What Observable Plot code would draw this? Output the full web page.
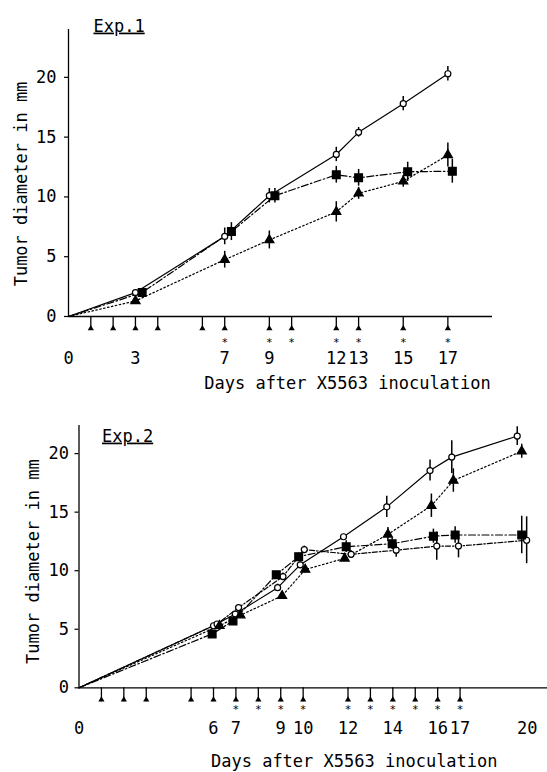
<!DOCTYPE html>
<html><head><meta charset="utf-8">
<script src="https://cdn.jsdelivr.net/npm/d3@7"></script>
<script src="https://cdn.jsdelivr.net/npm/@observablehq/plot@0.6"></script>
<style>
body{margin:0;background:#fff;}
#chart svg{display:block;}
</style></head><body><div id="chart"></div>
<script>
const FONT = "DejaVu Sans Mono, monospace";

// ---------- Exp.1 ----------
const e1TickLabels = [0, 3, 7, 9, 12, 13, 15, 17];
const e1Arrows = [1, 2, 3, 4, 6, 7, 9, 10, 12, 13, 15, 17];
const e1Stars = [7, 9, 10, 12, 13, 15, 17];
const e1CircleDay = [0, 3, 7, 9, 12, 13, 15, 17];
const e1CircleMm  = [0, 2.0, 6.7, 10.1, 13.55, 15.4, 17.8, 20.3];
const e1CircleSd  = [0, 0.2, 0.7, 0.6, 0.6, 0.4, 0.6, 0.6];
const e1SquareDay = [0, 3.3, 7.3, 9.25, 12, 13, 15.2, 17.2];
const e1SquareMm  = [0, 2.0, 7.1, 10.1, 11.85, 11.6, 12.1, 12.15];
const e1SquareSd  = [0, 0.2, 0.75, 0.6, 0.7, 0.7, 0.8, 1.0];
const e1TriDay = [0, 3, 7, 9, 12, 13, 15, 17];
const e1TriMm  = [0, 1.3, 4.75, 6.4, 8.75, 10.3, 11.3, 13.5];
const e1TriSd  = [0, 0.2, 0.7, 0.75, 0.85, 0.5, 0.5, 1.0];

// ---------- Exp.2 ----------
const e2TickLabels = [0, 6, 7, 9, 10, 12, 14, 16, 17, 20];
const e2Arrows = [1, 2, 3, 5, 6, 7, 8, 9, 10, 12, 13, 14, 15, 16, 17];
const e2Stars = [7, 8, 9, 10, 12, 13, 14, 15, 16, 17];
const e2CircleDay = [0, 6.0, 6.97, 8.86, 9.87, 11.8, 13.73, 15.66, 16.63, 19.55];
const e2CircleMm  = [0, 5.3, 6.3, 8.55, 10.5, 12.9, 15.45, 18.55, 19.7, 21.5];
const e2CircleSd  = [0, 0.2, 0.2, 0.3, 0.3, 0.2, 0.9, 0.9, 1.4, 0.8];
const e2OpenDashDay = [0, 6.16, 7.12, 9.1, 10.05, 12.14, 14.15, 15.96, 16.93, 19.97];
const e2OpenDashMm  = [0, 5.45, 6.85, 9.5, 11.8, 11.4, 11.75, 12.1, 12.1, 12.6];
const e2OpenDashSd  = [0, 0.2, 0.2, 0.3, 0.3, 0.3, 0.6, 1.2, 1.0, 2.0];
const e2SquareDay = [0, 5.94, 6.87, 8.8, 9.8, 11.92, 13.97, 15.81, 16.78, 19.75];
const e2SquareMm  = [0, 4.6, 5.7, 9.65, 11.2, 12.05, 12.3, 12.95, 13.05, 13.05];
const e2SquareSd  = [0, 0.2, 0.2, 0.3, 0.3, 0.5, 0.5, 0.6, 0.7, 1.6];
const e2TriDay = [0, 6.27, 7.2, 9.06, 10.09, 11.85, 13.78, 15.72, 16.7, 19.75];
const e2TriMm  = [0, 5.3, 6.2, 7.85, 10.1, 11.05, 13.1, 15.55, 17.7, 20.2];
const e2TriSd  = [0, 0.2, 0.2, 0.2, 0.3, 0.2, 0.6, 1.0, 1.0, 0.6];

const yTicks = [0, 5, 10, 15, 20];
const expTitles = ["Exp.1", "Exp.2"];
const yTitle = "Tumor diameter in mm";
const xTitle = "Days after X5563 inoculation";

const STYLE = {
  circle: {symbol: "circle", r: 3, fill: "white", dash: null},
  openDash: {symbol: "circle", r: 3, fill: "white", dash: "5,2,1.5,2"},
  square: {symbol: "square", r: 4.4, fill: "black", dash: "7,2.5,1.5,2.5"},
  tri: {symbol: "triangle", r: 3.4, fill: "black", dash: "1.6,2.4"}
};

function rows(days, mm, sd) {
  return days.map((d, i) => ({day: d, mm: mm[i], sd: sd[i]}));
}

function panel(cfg) {
  const marks = [];
  marks.push(Plot.ruleY([0], {strokeWidth: 1.3}));
  marks.push(Plot.ruleX([0], {strokeWidth: 1.3}));
  marks.push(Plot.axisY({ticks: yTicks, tickSize: 4, tickPadding: cfg.yPad, fontSize: 17, fontFamily: FONT, label: null, strokeWidth: 1.2}));
  marks.push(Plot.axisX({ticks: cfg.arrows, tickSize: 14, tickFormat: () => "", label: null, strokeWidth: 1.3}));
  marks.push(Plot.dot(cfg.arrows, {x: d => d, y: () => 0, dy: 12, symbol: "triangle", r: 2.3, fill: "black", stroke: "none"}));
  marks.push(Plot.text(cfg.stars, {x: d => d, y: () => 0, dy: cfg.starDy, text: () => "*", fontSize: 11, fontFamily: FONT, fill: "black"}));
  marks.push(Plot.axisX({ticks: cfg.ticks, tickSize: 0, tickPadding: cfg.xPad, fontSize: 17, fontFamily: FONT, label: null}));
  for (const g of cfg.groups) {
    const st = STYLE[g.style];
    const data = rows(g.days, g.mm, g.sd);
    marks.push(Plot.line(data, {x: "day", y: "mm", stroke: "black", strokeWidth: 1.2, strokeDasharray: st.dash}));
  }
  for (const g of cfg.groups) {
    const data = rows(g.days, g.mm, g.sd).filter(r => r.sd > 0);
    marks.push(Plot.ruleX(data, {x: "day", y1: r => r.mm - r.sd, y2: r => r.mm + r.sd, strokeWidth: 1.5}));
  }
  for (const g of cfg.groups) {
    const st = STYLE[g.style];
    const data = rows(g.days, g.mm, g.sd).slice(1);
    marks.push(Plot.dot(data, {x: "day", y: "mm", symbol: st.symbol, r: st.r, fill: st.fill, stroke: "black", strokeWidth: 1.2}));
  }
  marks.push(Plot.text([cfg.exp], {frameAnchor: "top-left", dx: cfg.expDx, dy: cfg.expDy, textAnchor: "start", fontSize: 17, fontFamily: FONT}));
  marks.push(Plot.text([yTitle], {frameAnchor: "left", textAnchor: "middle", rotate: -90, dx: cfg.ylDx, dy: cfg.ylDy, fontSize: 17, fontFamily: FONT}));
  marks.push(Plot.text([xTitle], {frameAnchor: "bottom", textAnchor: "middle", dx: cfg.xlDx, dy: cfg.xlDy, fontSize: 17, fontFamily: FONT}));

  const svg = Plot.plot({
    width: 547,
    height: cfg.height,
    marginLeft: cfg.mL, marginRight: cfg.mR, marginTop: cfg.mT, marginBottom: cfg.mB,
    x: {domain: [0, cfg.xMax], axis: null},
    y: {domain: [0, cfg.yMax], axis: null},
    style: {fontFamily: FONT, fontSize: "17px", background: "white", color: "black", overflow: "visible"},
    marks
  });
  d3.select(svg).selectAll("text").filter(function() { return this.textContent === cfg.exp; })
    .style("text-decoration", "underline");
  return svg;
}

const p1 = panel({
  height: 400, mL: 68, mR: 55, mT: 29, mB: 84, xMax: 19, yMax: 24,
  yPad: 8, xPad: 35, starDy: 26,
  ticks: e1TickLabels, arrows: e1Arrows, stars: e1Stars, exp: expTitles[0],
  expDx: 25, expDy: -10, ylDx: -47, ylDy: 11, xlDx: 67, xlDy: 72,
  groups: [
    {style: "circle", days: e1CircleDay, mm: e1CircleMm, sd: e1CircleSd},
    {style: "square", days: e1SquareDay, mm: e1SquareMm, sd: e1SquareSd},
    {style: "tri", days: e1TriDay, mm: e1TriMm, sd: e1TriSd}
  ]
});

const p2 = panel({
  height: 372, mL: 78.5, mR: 0, mT: 25, mB: 84.7, xMax: 20.9, yMax: 22.4,
  yPad: 6, xPad: 34, starDy: 22,
  ticks: e2TickLabels, arrows: e2Arrows, stars: e2Stars, exp: expTitles[1],
  expDx: 23, expDy: 4, ylDx: -45.5, ylDy: 5, xlDx: 41, xlDy: 79,
  groups: [
    {style: "circle", days: e2CircleDay, mm: e2CircleMm, sd: e2CircleSd},
    {style: "openDash", days: e2OpenDashDay, mm: e2OpenDashMm, sd: e2OpenDashSd},
    {style: "square", days: e2SquareDay, mm: e2SquareMm, sd: e2SquareSd},
    {style: "tri", days: e2TriDay, mm: e2TriMm, sd: e2TriSd}
  ]
});

document.getElementById("chart").append(p1, p2);
</script>
</body></html>
